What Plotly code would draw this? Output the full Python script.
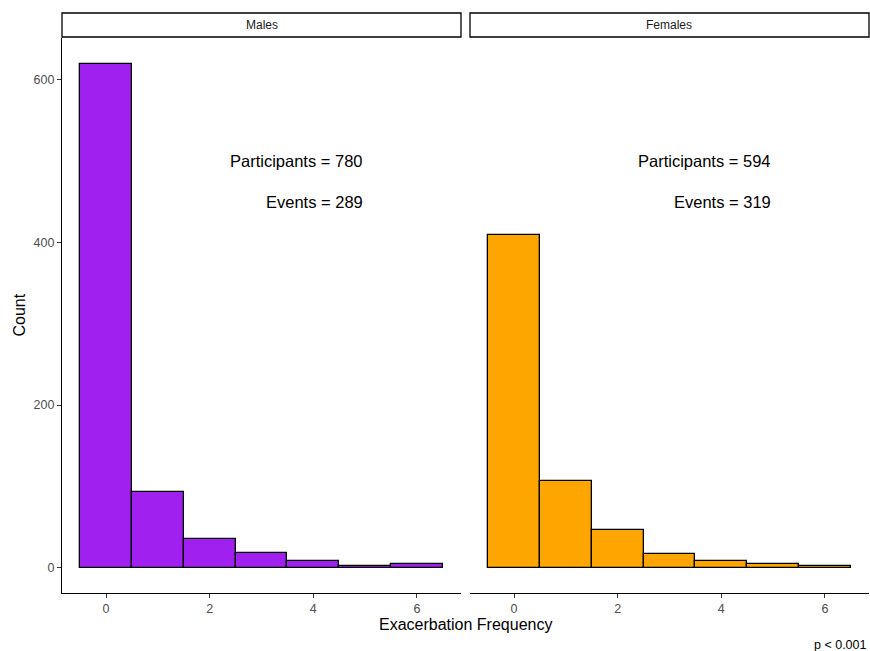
import plotly.graph_objects as go
from plotly.subplots import make_subplots

frequency = [0, 1, 2, 3, 4, 5, 6]
males_count = [619, 93, 35, 18, 8, 2, 5]
females_count = [409, 107, 46, 17, 8, 5, 2]
panels = ["Males", "Females"]
colors = ["#A020F0", "#FFA500"]
participants = [780, 594]
events = [289, 319]
x_ticks = [0, 2, 4, 6]
y_ticks = [0, 200, 400, 600]
p_text = "p < 0.001"

W, H = 870, 651
ml, mr, mt, mb = 62, 1, 38, 58
pw = W - ml - mr
ph = H - mt - mb
gap = 9
panel_w = (pw - gap) / 2

fig = make_subplots(rows=1, cols=2, horizontal_spacing=gap / pw, shared_yaxes=False)

FONT = "Liberation Sans, Arial, Helvetica, sans-serif"

for i, (counts, col) in enumerate(zip([males_count, females_count], colors)):
    fig.add_trace(go.Bar(x=frequency, y=counts, width=1,
                         marker=dict(color=col, line=dict(color="black", width=1.3)),
                         showlegend=False, hoverinfo="x+y"), row=1, col=i + 1)

xax = dict(range=[-0.85, 6.85], tickvals=x_ticks, showline=True, linecolor="black", linewidth=1.1,
           ticks="outside", ticklen=4, tickcolor="#333333", tickwidth=1.1,
           tickfont=dict(family=FONT, size=12.5, color="#4D4D4D"),
           showgrid=False, zeroline=False, fixedrange=True)
yax = dict(range=[-31, 651], tickvals=y_ticks, showgrid=False, zeroline=False, fixedrange=True)

fig.update_xaxes(**xax)
fig.update_yaxes(**yax)
fig.update_yaxes(showline=True, linecolor="black", linewidth=1.1, ticks="outside", ticklen=4,
                 tickcolor="#333333", tickwidth=1.1,
                 tickfont=dict(family=FONT, size=12.5, color="#4D4D4D"), row=1, col=1)
fig.update_yaxes(showticklabels=False, showline=False, ticks="", row=1, col=2)

# strips
strip_lo = 1 / ph
strip_hi = 25 / ph
x0s = [0, (panel_w + gap) / pw]
for i, name in enumerate(panels):
    x0 = x0s[i]
    x1 = x0 + panel_w / pw
    fig.add_shape(type="rect", xref="paper", yref="paper", x0=x0, x1=x1, y0=1 + strip_lo, y1=1 + strip_hi,
                  line=dict(color="black", width=1.3), fillcolor="white")
    fig.add_annotation(xref="paper", yref="paper", x=(x0 + x1) / 2, y=1 + (strip_lo + strip_hi) / 2,
                       text=name, showarrow=False, font=dict(family=FONT, size=12, color="#1A1A1A"),
                       xanchor="center", yanchor="middle")
    xr = "x" if i == 0 else "x2"
    yr = "y" if i == 0 else "y2"
    fig.add_annotation(xref=xr, yref=yr, x=5, y=500, text=f"Participants = {participants[i]}",
                       showarrow=False, xanchor="right", yanchor="middle",
                       font=dict(family=FONT, size=16.5, color="black"))
    fig.add_annotation(xref=xr, yref=yr, x=5, y=450, text=f"Events = {events[i]}",
                       showarrow=False, xanchor="right", yanchor="middle",
                       font=dict(family=FONT, size=16.5, color="black"))

fig.add_annotation(xref="paper", yref="paper", x=0.5, y=-(624 - 593) / ph, text="Exacerbation Frequency",
                   showarrow=False, xanchor="center", yanchor="middle", font=dict(family=FONT, size=16, color="black"))
fig.add_annotation(xref="paper", yref="paper", x=-(62 - 19) / pw, y=0.5, text="Count", textangle=-90,
                   showarrow=False, xanchor="center", yanchor="middle", font=dict(family=FONT, size=16, color="black"))
fig.add_annotation(xref="paper", yref="paper", x=1 + 0.5 / pw, y=-(645 - 593) / ph, text=p_text,
                   showarrow=False, xanchor="right", yanchor="middle", font=dict(family=FONT, size=12.5, color="black"))

fig.update_layout(width=W, height=H, margin=dict(l=ml, r=mr, t=mt, b=mb),
                  plot_bgcolor="white", paper_bgcolor="white", bargap=0, showlegend=False)

fig.write_html("out.html")
